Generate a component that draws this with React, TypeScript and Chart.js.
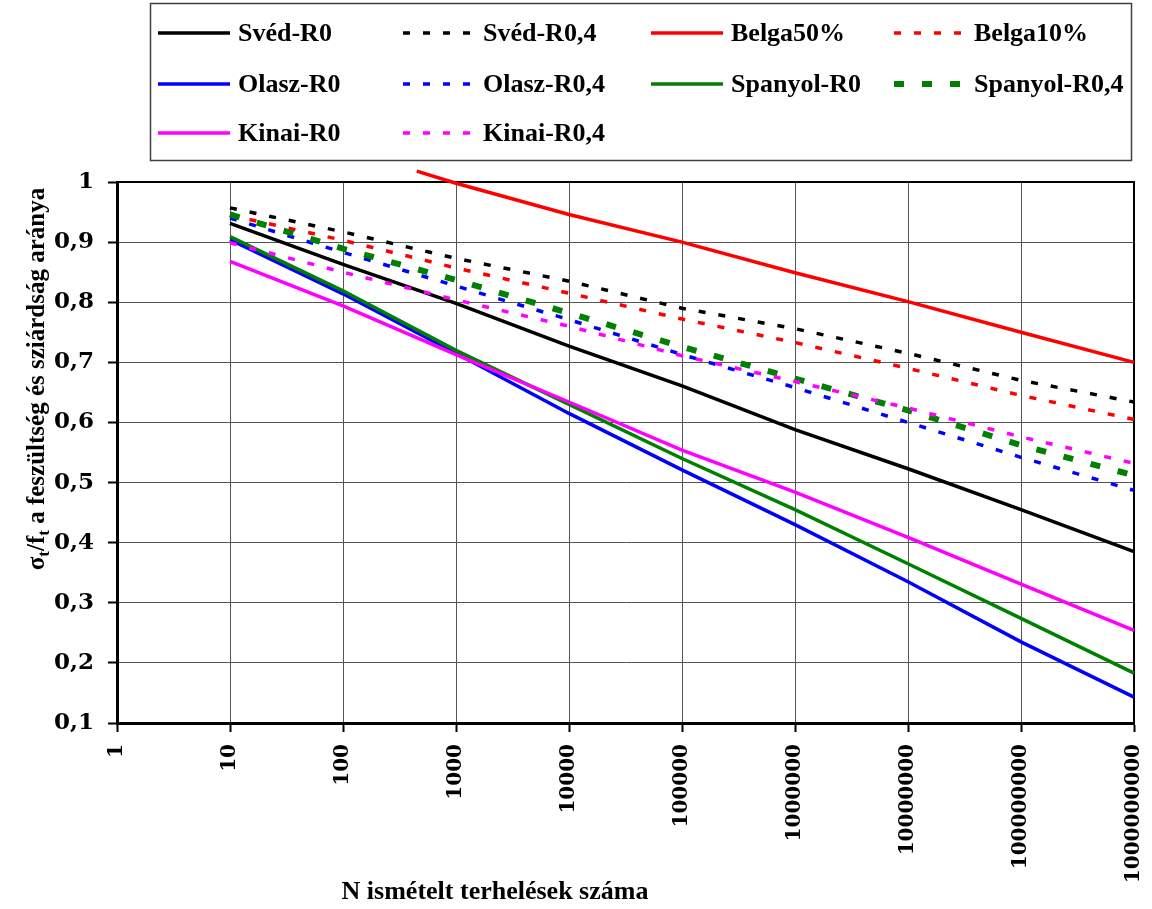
import React, { useEffect, useRef } from 'react';
import { Chart, registerables } from 'chart.js';

Chart.register(...registerables);

// ---- data ----
const N_DECADES = [10, 100, 1000, 10000, 100000, 1000000, 10000000, 100000000, 1000000000];
const BELGA50_N = [450, 1000, 10000, 100000, 1000000, 10000000, 100000000, 1000000000];
const X_TICKS = [1, 10, 100, 1000, 10000, 100000, 1000000, 10000000, 100000000, 1000000000];
const Y_TICKS = [0.1, 0.2, 0.3, 0.4, 0.5, 0.6, 0.7, 0.8, 0.9, 1];

const SVED_R0 = [0.931, 0.863, 0.798, 0.727, 0.661, 0.588, 0.523, 0.455, 0.385];
const SVED_R04 = [0.957, 0.917, 0.873, 0.835, 0.79, 0.756, 0.715, 0.67, 0.634];
const BELGA50 = [1.018, 0.998, 0.946, 0.9, 0.849, 0.801, 0.75, 0.7];
const BELGA10 = [0.945, 0.903, 0.857, 0.815, 0.772, 0.733, 0.69, 0.645, 0.605];
const OLASZ_R0 = [0.904, 0.814, 0.715, 0.615, 0.521, 0.43, 0.335, 0.235, 0.143];
const OLASZ_R04 = [0.94, 0.883, 0.827, 0.771, 0.713, 0.658, 0.6, 0.542, 0.487];
const SPANYOL_R0 = [0.909, 0.819, 0.72, 0.63, 0.54, 0.455, 0.365, 0.274, 0.183];
const SPANYOL_R04 = [0.946, 0.889, 0.837, 0.782, 0.726, 0.673, 0.62, 0.562, 0.512];
const KINAI_R0 = [0.868, 0.794, 0.713, 0.634, 0.554, 0.484, 0.409, 0.331, 0.254];
const KINAI_R04 = [0.899, 0.85, 0.804, 0.76, 0.711, 0.668, 0.624, 0.576, 0.532];

const SERIES_NAMES = [
  'Svéd-R0', 'Svéd-R0,4', 'Belga50%', 'Belga10%',
  'Olasz-R0', 'Olasz-R0,4', 'Spanyol-R0', 'Spanyol-R0,4',
  'Kinai-R0', 'Kinai-R0,4',
];

const X_TITLE = 'N ismételt terhelések száma';
const Y_TITLE_PARTS = [
  { t: 'σ', sub: false },
  { t: 't', sub: true },
  { t: '/f', sub: false },
  { t: 't', sub: true },
  { t: ' a feszültség és sziárdság aránya', sub: false },
];

const pts = (xs: number[], ys: number[]) => xs.map((x, i) => ({ x, y: ys[i] }));

const SOLID: number[] = [];
const DOT = [7, 13];
const DASH = [10, 18];

const legendAndTitles = {
  id: 'legendAndTitles',
  beforeDatasetsDraw(chart: any) {
    const { ctx, chartArea } = chart;
    ctx.save();
    ctx.strokeStyle = '#000';
    ctx.lineWidth = 2;
    ctx.strokeRect(chartArea.left, chartArea.top, chartArea.right - chartArea.left, chartArea.bottom - chartArea.top);
    ctx.restore();
  },
  afterDraw(chart: any) {
    const ctx = chart.ctx as CanvasRenderingContext2D;
    ctx.save();
    // legend box
    ctx.strokeStyle = '#404040';
    ctx.lineWidth = 1.5;
    ctx.strokeRect(150.5, 3.5, 981, 157);
    const colX = [158, 403, 651, 894];
    const rowY = [33, 84, 133];
    chart.data.datasets.forEach((ds: any, i: number) => {
      const c = i % 4;
      const r = Math.floor(i / 4);
      const x = colX[c];
      const y = rowY[r];
      ctx.beginPath();
      ctx.setLineDash(ds.borderDash || []);
      ctx.lineWidth = ds.borderWidth;
      ctx.strokeStyle = ds.borderColor;
      ctx.moveTo(x, y);
      ctx.lineTo(x + 72, y);
      ctx.stroke();
      ctx.setLineDash([]);
      ctx.fillStyle = '#000';
      ctx.font = 'bold 26px "Liberation Serif"';
      ctx.textBaseline = 'middle';
      ctx.textAlign = 'left';
      ctx.fillText(ds.label, x + 80, y + 1);
    });

    // x title
    ctx.font = 'bold 26px "Liberation Serif"';
    ctx.textAlign = 'center';
    ctx.textBaseline = 'alphabetic';
    ctx.fillStyle = '#000';
    ctx.fillText(X_TITLE, 495, 899);

    // y title (rotated, with subscripts)
    const mainFont = 'bold 25px "Liberation Serif"';
    const subFont = 'bold 17px "Liberation Serif"';
    let total = 0;
    const widths = Y_TITLE_PARTS.map((p) => {
      ctx.font = p.sub ? subFont : mainFont;
      const w = ctx.measureText(p.t).width;
      total += w;
      return w;
    });
    ctx.translate(44, 379);
    ctx.rotate(-Math.PI / 2);
    let cx = -total / 2;
    ctx.textAlign = 'left';
    Y_TITLE_PARTS.forEach((p, i) => {
      ctx.font = p.sub ? subFont : mainFont;
      ctx.fillText(p.t, cx, p.sub ? 5 : 0);
      cx += widths[i];
    });
    ctx.restore();
  },
};

export default function App() {
  const ref = useRef<HTMLCanvasElement>(null);
  useEffect(() => {
    document.body.style.margin = '0';
    const seriesData = [
      pts(N_DECADES, SVED_R0),
      pts(N_DECADES, SVED_R04),
      pts(BELGA50_N, BELGA50),
      pts(N_DECADES, BELGA10),
      pts(N_DECADES, OLASZ_R0),
      pts(N_DECADES, OLASZ_R04),
      pts(N_DECADES, SPANYOL_R0),
      pts(N_DECADES, SPANYOL_R04),
      pts(N_DECADES, KINAI_R0),
      pts(N_DECADES, KINAI_R04),
    ];
    const colors = ['#000000', '#000000', '#FF0000', '#FF0000', '#0000FF', '#0000FF', '#008000', '#008000', '#FF00FF', '#FF00FF'];
    const dashes = [SOLID, DOT, SOLID, DOT, SOLID, DOT, SOLID, DASH, SOLID, DOT];
    const widths = [3.5, 3.5, 3.5, 3.5, 3.5, 3.5, 3.5, 6, 3.5, 3.5];
    const datasets = seriesData.map((data, i) => ({
      label: SERIES_NAMES[i],
      data,
      borderColor: colors[i],
      backgroundColor: colors[i],
      borderDash: dashes[i],
      borderWidth: widths[i],
      pointRadius: 0,
      tension: 0,
      fill: false,
      clip: false as any,
      order: 10 - i,
    }));

    const chart = new Chart(ref.current as HTMLCanvasElement, {
      type: 'line',
      data: { datasets },
      options: {
        animation: false,
        responsive: false,
        layout: { padding: { top: 182, right: 18, left: 0, bottom: 0 } },
        plugins: { legend: { display: false }, tooltip: { enabled: false } },
        scales: {
          x: {
            type: 'logarithmic',
            min: 1,
            max: 1000000000,
            afterBuildTicks: (scale: any) => {
              scale.ticks = X_TICKS.map((v) => ({ value: v }));
            },
            afterFit: (scale: any) => {
              scale.height = 186;
              scale.paddingLeft = 0;
              scale.paddingRight = 0;
            },
            grid: { color: '#555555', lineWidth: 1, tickColor: '#000', tickLength: 9, tickWidth: 2 },
            border: { color: '#000', width: 3 },
            ticks: {
              autoSkip: false,
              minRotation: 90,
              maxRotation: 90,
              padding: 12,
              color: '#000',
              font: { family: '"DejaVu Serif"', weight: 'bold', size: 20 },
              callback: (v: any) => String(Math.round(Number(v))),
            },
          },
          y: {
            type: 'linear',
            min: 0.1,
            max: 1,
            afterBuildTicks: (scale: any) => {
              scale.ticks = Y_TICKS.map((v) => ({ value: v }));
            },
            afterFit: (scale: any) => {
              scale.width = 117;
              scale.paddingTop = 0;
              scale.paddingBottom = 0;
            },
            grid: { color: '#555555', lineWidth: 1, tickColor: '#000', tickLength: 9, tickWidth: 2 },
            border: { color: '#000', width: 3 },
            ticks: {
              padding: 14,
              color: '#000',
              font: { family: '"DejaVu Serif"', weight: 'bold', size: 23 },
              callback: (v: any) => (Math.abs(Number(v) - 1) < 1e-9 ? '1' : Number(v).toFixed(1).replace('.', ',')),
            },
          },
        },
      },
      plugins: [legendAndTitles],
    } as any);
    return () => chart.destroy();
  }, []);

  return (
    <div style={{ width: 1152, height: 909, position: 'relative', background: '#fff' }}>
      <canvas ref={ref} width={1152} height={909} style={{ display: 'block' }} />
    </div>
  );
}
